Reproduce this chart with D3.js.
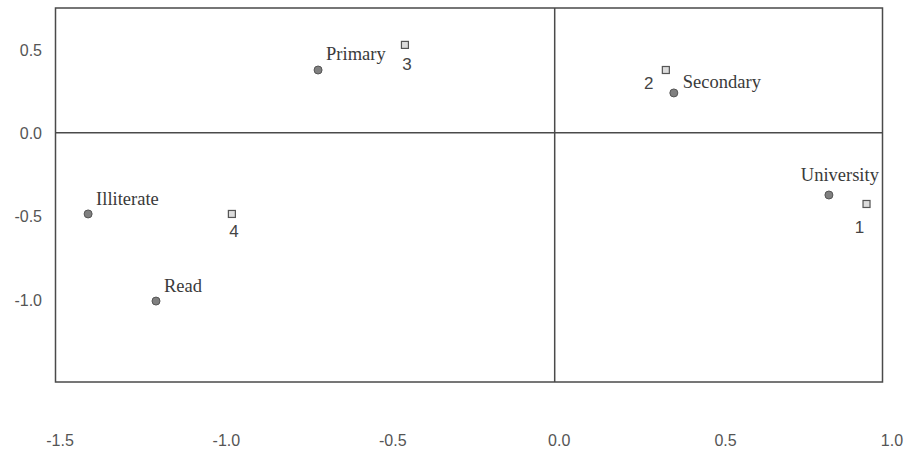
<!DOCTYPE html>
<html><head><meta charset="utf-8">
<script src="https://cdn.jsdelivr.net/npm/d3@7"></script>
<style>
html,body{margin:0;padding:0;background:#fff;}
svg{display:block;}
</style></head>
<body>
<svg id="chart" width="905" height="450"></svg>
<script>
// Row points (education level)
const rowLabels = ["Illiterate", "Read", "Primary", "Secondary", "University"];
const rowX = [-1.402, -1.198, -0.711, 0.358, 0.824];
const rowY = [-0.489, -1.013, 0.377, 0.239, -0.375];
// Column points (clusters)
const colLabels = ["1", "2", "3", "4"];
const colX = [0.937, 0.334, -0.450, -0.970];
const colY = [-0.429, 0.377, 0.528, -0.489];
// Axis ticks
const xTicks = [-1.5, -1.0, -0.5, 0.0, 0.5, 1.0];
const yTicks = [0.5, 0.0, -0.5, -1.0];

const svg = d3.select("#chart");
const x = d3.scaleLinear().domain([-1.5, 0.985]).range([55.5, 882.5]);
const y = d3.scaleLinear().domain([-1.5, 0.75]).range([382, 8]);

const axisColor = "#4a4a4a";
const tickFont = "'Liberation Sans Narrow','Liberation Sans',Arial,sans-serif";
const serif = "'Liberation Serif','Times New Roman',serif";
const fmt = d => d.toFixed(1); // plain hyphen minus as in the reference

// Frame
svg.append("rect")
  .attr("x", x.range()[0]).attr("y", y.range()[1])
  .attr("width", x.range()[1] - x.range()[0])
  .attr("height", y.range()[0] - y.range()[1])
  .attr("fill", "none").attr("stroke", axisColor).attr("stroke-width", 1.5);

// Zero lines
svg.append("line")
  .attr("x1", x.range()[0]).attr("x2", x.range()[1])
  .attr("y1", y(0)).attr("y2", y(0))
  .attr("stroke", axisColor).attr("stroke-width", 1.5);
svg.append("line")
  .attr("x1", x(0)).attr("x2", x(0))
  .attr("y1", y.range()[1]).attr("y2", y.range()[0])
  .attr("stroke", axisColor).attr("stroke-width", 1.5);

// X axis labels (no tick marks)
const xAxis = d3.axisBottom(x).tickValues(xTicks).tickFormat(fmt).tickSize(0).tickPadding(0);
const gx = svg.append("g").attr("transform", "translate(4,446)").call(xAxis);
gx.select(".domain").remove();
gx.selectAll("text")
  .attr("dy", null).attr("y", 0)
  .attr("font-family", tickFont).attr("font-size", 16).attr("fill", "#555");

// Y axis labels
const yAxis = d3.axisLeft(y).tickValues(yTicks).tickFormat(fmt).tickSize(0).tickPadding(0);
const gy = svg.append("g").attr("transform", "translate(42,1)").call(yAxis);
gy.select(".domain").remove();
gy.selectAll("text")
  .attr("font-family", tickFont).attr("font-size", 16).attr("fill", "#555");

const rows = rowLabels.map((l, i) => ({label: l, x: rowX[i], y: rowY[i]}));
const cols = colLabels.map((l, i) => ({label: l, x: colX[i], y: colY[i]}));

// label placement (pixel offsets, anchor) kept separate from data
const rowPlace = {
  "Illiterate": [8, -9, "start"],
  "Read": [8, -9, "start"],
  "Primary": [8, -10, "start"],
  "Secondary": [9, -5, "start"],
  "University": [50, -14, "end"]
};
const colPlace = {
  "1": [-7, 29, "middle"],
  "2": [-17, 19, "middle"],
  "3": [2, 25, "middle"],
  "4": [2, 23, "middle"]
};

svg.append("g").selectAll("circle").data(rows).join("circle")
  .attr("cx", d => x(d.x)).attr("cy", d => y(d.y)).attr("r", 4)
  .attr("fill", "#808080").attr("stroke", "#555").attr("stroke-width", 1);

svg.append("g").selectAll("text").data(rows).join("text")
  .attr("x", d => x(d.x) + rowPlace[d.label][0])
  .attr("y", d => y(d.y) + rowPlace[d.label][1])
  .attr("text-anchor", d => rowPlace[d.label][2])
  .attr("font-family", serif).attr("font-size", 18.5).attr("fill", "#3a3a3a")
  .text(d => d.label);

svg.append("g").selectAll("rect").data(cols).join("rect")
  .attr("x", d => x(d.x) - 3.5).attr("y", d => y(d.y) - 3.5)
  .attr("width", 7).attr("height", 7)
  .attr("fill", "#dcdcdc").attr("stroke", "#555").attr("stroke-width", 1.2);

svg.append("g").selectAll("text").data(cols).join("text")
  .attr("x", d => x(d.x) + colPlace[d.label][0])
  .attr("y", d => y(d.y) + colPlace[d.label][1])
  .attr("text-anchor", d => colPlace[d.label][2])
  .attr("font-family", "'Liberation Sans',Arial,sans-serif").attr("font-size", 17).attr("fill", "#444")
  .text(d => d.label);
</script>
</body></html>
